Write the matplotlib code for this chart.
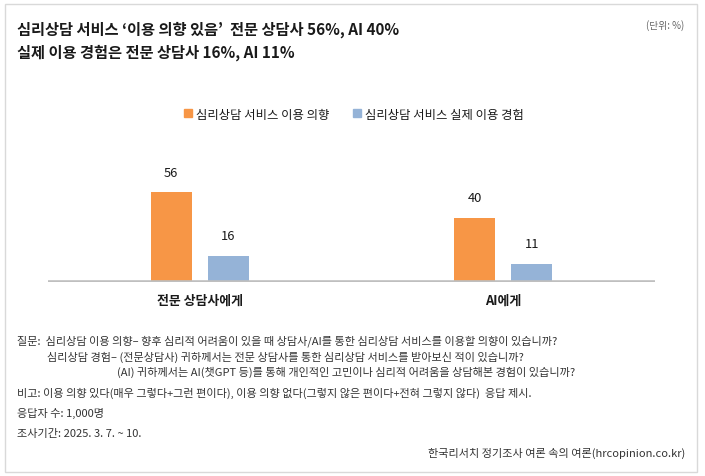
import matplotlib
matplotlib.use("Agg")
import matplotlib.pyplot as plt
from matplotlib.patches import Patch, Rectangle
import numpy as np

plt.rcParams['font.family'] = ['Noto Sans CJK KR', 'DejaVu Sans']

categories = ["전문 상담사에게", "AI에게"]
series_names = ["심리상담 서비스 이용 의향", "심리상담 서비스 실제 이용 경험"]
intent = [56, 40]
experience = [16, 11]
colors = ["#F79646", "#95B3D7"]

title_lines = ["심리상담 서비스 ‘이용 의향 있음’  전문 상담사 56%, AI 40%",
               "실제 이용 경험은 전문 상담사 16%, AI 11%"]
unit_text = "(단위: %)"
notes = [
    ("질문:  심리상담 이용 의향– 향후 심리적 어려움이 있을 때 상담사/AI를 통한 심리상담 서비스를 이용할 의향이 있습니까?", 17, 341),
    ("심리상담 경험– (전문상담사) 귀하께서는 전문 상담사를 통한 심리상담 서비스를 받아보신 적이 있습니까?", 47, 357),
    ("(AI) 귀하께서는 AI(챗GPT 등)를 통해 개인적인 고민이나 심리적 어려움을 상담해본 경험이 있습니까?", 117, 372),
    ("비고: 이용 의향 있다(매우 그렇다+그런 편이다), 이용 의향 없다(그렇지 않은 편이다+전혀 그렇지 않다)  응답 제시.", 17, 393),
    ("응답자 수: 1,000명", 17, 413),
    ("조사기간: 2025. 3. 7. ~ 10.", 17, 434),
]
source = "한국리서치 정기조사 여론 속의 여론(hrcopinion.co.kr)"

W, H = 705, 477
fig = plt.figure(figsize=(W / 100, H / 100), dpi=100)

def fx(x):
    return x / W

def fy(y):
    return 1 - y / H

# outer frame
fig.patches.append(Rectangle((fx(5), fy(473)), fx(692), (468) / H, transform=fig.transFigure,
                             fill=False, edgecolor="#D9D9D9", linewidth=1.0))

# axes
ymax = 80
px_per_unit = 1.59
base_y = 282.5
ax = fig.add_axes([fx(48), fy(base_y), fx(607), ymax * px_per_unit / H])
x = np.arange(len(categories))
bw = 0.135
off = 0.0945
b1 = ax.bar(x - off, intent, bw, color=colors[0], zorder=2)
b2 = ax.bar(x + off, experience, bw, color=colors[1], zorder=2)
ax.set_xlim(-0.5, 1.5)
ax.set_ylim(0, ymax)
ax.axhline(0, color="#BFBFBF", linewidth=2.6, zorder=3)
for s in ax.spines.values():
    s.set_visible(False)
ax.set_yticks([])
ax.set_xticks(x)
ax.set_xticklabels(categories, fontsize=9.3, fontweight="bold", color="#1a1a1a")
ax.tick_params(axis="x", length=0, pad=8)
for bars in (b1, b2):
    ax.bar_label(bars, padding=10, fontsize=9.3, color="#1a1a1a")

# legend
handles = [Patch(color=colors[0]), Patch(color=colors[1])]
fig.legend(handles, series_names, loc="center", bbox_to_anchor=(fx(354), fy(115)), ncol=2,
           frameon=False, handlelength=0.65, handleheight=0.65, handletextpad=0.3,
           columnspacing=1.9, fontsize=8.9, labelcolor="#1a1a1a")

# titles
fig.text(fx(17), fy(30), title_lines[0], fontsize=11.0, fontweight="bold", color="#1a1a1a", va="center", ha="left")
fig.text(fx(17), fy(53), title_lines[1], fontsize=11.0, fontweight="bold", color="#1a1a1a", va="center", ha="left")
fig.text(fx(684), fy(26), unit_text, fontsize=7, color="#666666", va="center", ha="right")

for t, xx, yy in notes:
    fig.text(fx(xx), fy(yy), t, fontsize=8.0, color="#333333", va="center", ha="left")
fig.text(fx(685), fy(453), source, fontsize=8.0, color="#333333", va="center", ha="right")

fig.savefig("out.png", dpi=100)
